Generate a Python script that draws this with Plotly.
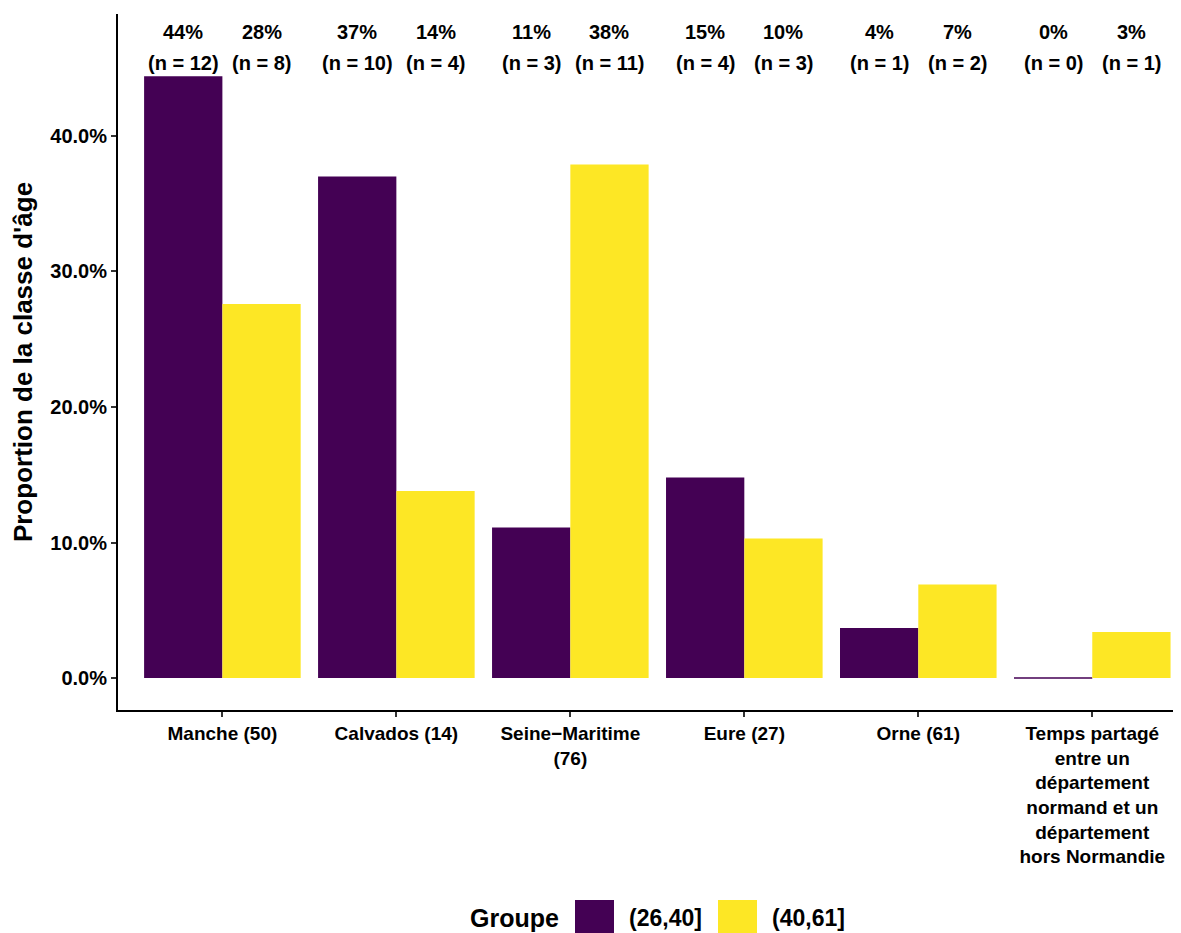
import plotly.graph_objects as go

categories = ["Manche (50)", "Calvados (14)", "Seine\u2212Maritime<br>(76)", "Eure (27)", "Orne (61)",
              "Temps partagé<br>entre un<br>département<br>normand et un<br>département<br>hors Normandie"]
groups = ["(26,40]", "(40,61]"]
n_a = [12, 10, 3, 4, 1, 0]
n_b = [8, 4, 11, 3, 2, 1]
prop_a = [0.444, 0.370, 0.111, 0.148, 0.037, 0.0]
prop_b = [0.276, 0.138, 0.379, 0.103, 0.069, 0.034]
colors = ["#440154", "#FDE725"]

FONT = "Liberation Sans, Arial, sans-serif"
xs = list(range(len(categories)))

# page has an 8px body margin; plot area target in screen px
OFF = 8
L, R, T, B = 118, 1181, 14, 710
W, H = 1181 - OFF, 933 - OFF

fig = go.Figure()
for g, vals, col in [(groups[0], prop_a, colors[0]), (groups[1], prop_b, colors[1])]:
    lw = [1.5 if v == 0 else 0 for v in vals]
    fig.add_trace(go.Bar(x=xs, y=vals, name=g, marker=dict(color=col, line=dict(color=col, width=lw)),
                         showlegend=False))

annotations = []
for i in xs:
    for off, vals, ns in [(-0.225, prop_a, n_a), (0.225, prop_b, n_b)]:
        annotations.append(dict(x=i + off, y=0.477, xref="x", yref="y", showarrow=False,
                                text=f"<b>{round(vals[i]*100):.0f}%</b>",
                                font=dict(family=FONT, size=20, color="black")))
        annotations.append(dict(x=i + off, y=0.454, xref="x", yref="y", showarrow=False,
                                text=f"<b>(n = {ns[i]})</b>",
                                font=dict(family=FONT, size=20, color="black")))

def px(x):
    return (x - L) / (R - L)
def py(y):
    return (B - y) / (B - T)

shapes = []
annotations.append(dict(x=px(561), y=py(918), xref="paper", yref="paper", showarrow=False,
                        xanchor="right", yanchor="middle", text="<b>Groupe</b>",
                        font=dict(family=FONT, size=25, color="black")))
for (x0, col, lab) in [(575, colors[0], groups[0]), (718, colors[1], groups[1])]:
    shapes.append(dict(type="rect", xref="paper", yref="paper", x0=px(x0), x1=px(x0 + 39),
                       y0=py(900), y1=py(939), fillcolor=col, line=dict(width=0)))
    annotations.append(dict(x=px(x0 + 52), y=py(918), xref="paper", yref="paper", showarrow=False,
                            xanchor="left", yanchor="middle", text=f"<b>{lab}</b>",
                            font=dict(family=FONT, size=23, color="black")))

fig.update_layout(
    width=W, height=H,
    margin=dict(l=L - OFF, r=W - (R - OFF), t=T - OFF, b=H - (B - OFF)),
    paper_bgcolor="white", plot_bgcolor="white",
    barmode="group", bargap=0.1, bargroupgap=0,
    annotations=annotations, shapes=shapes,
    font=dict(family=FONT, size=20, color="black"),
)
fig.update_xaxes(
    tickvals=xs, ticktext=[f"<b>{c}</b>" for c in categories],
    range=[-0.6, 5.51], showline=True, linecolor="black", linewidth=2,
    ticks="outside", ticklen=5, tickcolor="#333333", tickwidth=1.5,
    tickfont=dict(family=FONT, size=19, color="black"), showgrid=False, zeroline=False,
)
fig.update_yaxes(
    range=[-0.0236, 0.490], tickvals=[0, 0.1, 0.2, 0.3, 0.4],
    ticktext=["<b>0.0%</b>", "<b>10.0%</b>", "<b>20.0%</b>", "<b>30.0%</b>", "<b>40.0%</b>"],
    showline=True, linecolor="black", linewidth=2,
    ticks="outside", ticklen=5, tickcolor="#333333", tickwidth=1.5,
    tickfont=dict(family=FONT, size=20, color="black"), showgrid=False, zeroline=False,
    title=dict(text="<b>Proportion de la classe d'âge</b>", font=dict(family=FONT, size=26, color="black"),
               standoff=10),
)

fig.write_html("out.html")
